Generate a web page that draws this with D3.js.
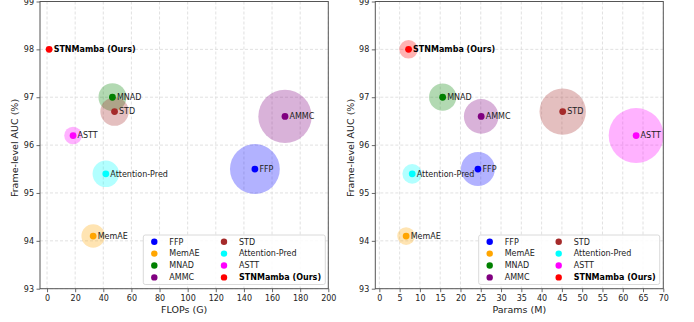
<!DOCTYPE html>
<html><head><meta charset="utf-8">
<script src="https://cdn.jsdelivr.net/npm/d3@7"></script>
<style>body{margin:0;background:#fff}svg{display:block;font-family:"DejaVu Sans",sans-serif}</style>
</head><body><svg id="c" width="694" height="322"></svg>
<script>
const methods = ["FFP","MemAE","MNAD","AMMC","STD","Attention-Pred","ASTT","STNMamba (Ours)"];
const colors = ["#0000ff","#ffa500","#008000","#800080","#a52a2a","#00ffff","#ff00ff","#ff0000"];
const auc = [95.5,94.1,97.0,96.6,96.7,95.4,96.2,98.0];
const flops = [147.8,32.8,46.5,169.2,48.0,41.8,18.5,1.5];
const params = [24.3,6.6,15.6,25.1,45.2,8.1,63.3,7.2];
const yTicks = [93,94,95,96,97,98,99];
const flopsTicks = d3.range(0,201,20);
const paramsTicks = d3.range(0,71,5);

const svg = d3.select("#c");
const plotTop = 1.5, plotBottom = 288.7;
const y = d3.scaleLinear().domain([93,99]).range([plotBottom, plotTop]);
const FS = 8;

function panel(opt){
  const g = svg.append("g");
  const x = d3.scaleLinear().domain(opt.domain).range([opt.left, opt.right]);
  const r = d3.scaleSqrt().domain([0,1]).range([0,opt.rk]);
  g.selectAll(".gx").data(opt.ticks).join("line")
    .attr("x1",d=>x(d)).attr("x2",d=>x(d)).attr("y1",plotTop).attr("y2",plotBottom)
    .attr("stroke","#d9d9d9").attr("stroke-width",0.8).attr("stroke-dasharray","3,2");
  g.selectAll(".gy").data(yTicks).join("line")
    .attr("x1",opt.left).attr("x2",opt.right).attr("y1",d=>y(d)).attr("y2",d=>y(d))
    .attr("stroke","#d9d9d9").attr("stroke-width",0.8).attr("stroke-dasharray","3,2");
  const idx = d3.range(methods.length);
  g.selectAll(".b").data(idx).join("circle")
    .attr("cx",i=>x(opt.vals[i])).attr("cy",i=>y(auc[i])).attr("r",i=>r(opt.vals[i]))
    .attr("fill",i=>colors[i]).attr("fill-opacity",0.3);
  g.selectAll(".d").data(idx).join("circle")
    .attr("cx",i=>x(opt.vals[i])).attr("cy",i=>y(auc[i])).attr("r",3.4)
    .attr("fill",i=>colors[i]);
  g.selectAll(".t").data(idx).join("text")
    .attr("x",i=>x(opt.vals[i])+4.5).attr("y",i=>y(auc[i])).attr("dy","0.35em")
    .attr("font-size",FS).attr("fill",i=>i===7?"#000":"#222")
    .attr("font-weight",i=>i===7?"bold":"normal").text(i=>methods[i]);
  const ax = g.append("g").attr("transform",`translate(0,${plotBottom})`)
    .call(d3.axisBottom(x).tickValues(opt.ticks).tickSize(3.5).tickPadding(3).tickFormat(d3.format("d")));
  const ay = g.append("g").attr("transform",`translate(${opt.left},0)`)
    .call(d3.axisLeft(y).tickValues(yTicks).tickSize(3.5).tickPadding(2.5).tickFormat(d3.format("d")));
  [ax,ay].forEach(a=>{
    a.select(".domain").remove();
    a.selectAll("line").attr("stroke","#444").attr("stroke-width",0.8);
    a.selectAll("text").attr("font-size",FS).attr("fill","#222").attr("font-family","DejaVu Sans");
  });
  g.append("rect").attr("x",opt.left).attr("y",plotTop).attr("width",opt.right-opt.left).attr("height",plotBottom-plotTop)
    .attr("fill","none").attr("stroke","#555").attr("stroke-width",1);
  g.append("text").attr("x",(opt.left+opt.right)/2).attr("y",312.5).attr("text-anchor","middle")
    .attr("font-size",9.5).attr("fill","#222").text(opt.xlabel);
  g.append("text").attr("transform",`translate(${opt.ylx},148) rotate(-90)`)
    .attr("text-anchor","middle").attr("dy","0.35em").attr("font-size",9.5).attr("fill","#222").text("Frame-level AUC (%)");
  const L = opt.leg;
  g.append("rect").attr("x",L.x).attr("y",235).attr("width",L.w).attr("height",49.5).attr("rx",2)
    .attr("fill","#fff").attr("fill-opacity",0.85).attr("stroke","#d0d0d0").attr("stroke-width",0.8);
  idx.forEach(i=>{
    const col = Math.floor(i/4), row = i%4;
    const mx = L.x + L.m[col], yy = 241.7 + row*11.9;
    g.append("circle").attr("cx",mx).attr("cy",yy).attr("r",3.2).attr("fill",colors[i]);
    g.append("text").attr("x",mx+15).attr("y",yy).attr("dy","0.35em").attr("font-size",FS)
      .attr("fill",i===7?"#000":"#222").attr("font-weight",i===7?"bold":"normal").text(methods[i]);
  });
}

panel({vals:flops, domain:[-5,200], left:40, right:328.3, ticks:flopsTicks, rk:2.05,
  xlabel:"FLOPs (G)", ylx:15, leg:{x:143.3, w:182, m:[11,80.7]}});
panel({vals:params, domain:[-1,70], left:375.3, right:663.3, ticks:paramsTicks, rk:3.45,
  xlabel:"Params (M)", ylx:351, leg:{x:478.7, w:181, m:[11,80]}});
</script></body></html>
